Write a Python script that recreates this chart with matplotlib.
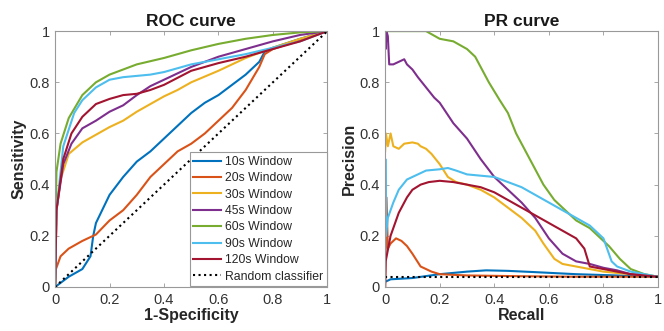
import numpy as np
import matplotlib
matplotlib.use("Agg")
import matplotlib.pyplot as plt

plt.rcParams['font.family'] = ['Liberation Sans', 'DejaVu Sans']

labels = ['10s Window', '20s Window', '30s Window', '45s Window',
          '60s Window', '90s Window', '120s Window']
colors = ['#0072BD', '#D95319', '#EDB120', '#7E2F8E', '#77AC30', '#4DBEEE', '#A2142F']
ticks = [0, 0.2, 0.4, 0.6, 0.8, 1]
tick_labels = ['0', '0.2', '0.4', '0.6', '0.8', '1']

# ROC curves (1-specificity, sensitivity)
roc_10_x = [0, 0.05, 0.1, 0.13, 0.14, 0.15, 0.2, 0.25, 0.3, 0.35, 0.4, 0.45, 0.5, 0.55, 0.6, 0.65, 0.7, 0.75, 0.77, 0.8, 0.9, 1]
roc_10_y = [0, 0.04, 0.07, 0.12, 0.2, 0.25, 0.36, 0.43, 0.49, 0.53, 0.58, 0.63, 0.68, 0.72, 0.75, 0.79, 0.83, 0.88, 0.92, 0.935, 0.97, 1]
roc_20_x = [0, 0.003, 0.02, 0.05, 0.1, 0.15, 0.2, 0.25, 0.3, 0.35, 0.4, 0.45, 0.5, 0.55, 0.6, 0.65, 0.7, 0.75, 0.77, 0.8, 0.9, 1]
roc_20_y = [0, 0.07, 0.12, 0.15, 0.18, 0.205, 0.26, 0.3, 0.36, 0.43, 0.48, 0.53, 0.56, 0.6, 0.65, 0.7, 0.77, 0.86, 0.91, 0.93, 0.965, 1]
roc_30_x = [0, 0.005, 0.02, 0.05, 0.1, 0.15, 0.2, 0.25, 0.3, 0.35, 0.4, 0.45, 0.5, 0.6, 0.65, 0.7, 0.8, 0.9, 1]
roc_30_y = [0, 0.3, 0.42, 0.52, 0.565, 0.595, 0.625, 0.65, 0.685, 0.715, 0.745, 0.77, 0.8, 0.845, 0.87, 0.895, 0.935, 0.97, 1]
roc_45_x = [0, 0.005, 0.03, 0.06, 0.1, 0.15, 0.2, 0.25, 0.3, 0.35, 0.4, 0.5, 0.6, 0.7, 0.8, 0.9, 1]
roc_45_y = [0, 0.3, 0.48, 0.56, 0.62, 0.65, 0.685, 0.71, 0.75, 0.785, 0.81, 0.86, 0.9, 0.93, 0.96, 0.985, 1]
roc_60_x = [0, 0, 0.005, 0.02, 0.05, 0.1, 0.15, 0.2, 0.3, 0.4, 0.5, 0.6, 0.7, 0.8, 0.9, 1]
roc_60_y = [0, 0.2, 0.45, 0.56, 0.66, 0.75, 0.8, 0.83, 0.87, 0.895, 0.925, 0.95, 0.97, 0.985, 0.995, 1]
roc_90_x = [0, 0.005, 0.03, 0.07, 0.1, 0.15, 0.2, 0.25, 0.35, 0.4, 0.5, 0.6, 0.7, 0.8, 0.9, 1]
roc_90_y = [0, 0.3, 0.55, 0.68, 0.73, 0.78, 0.81, 0.82, 0.83, 0.84, 0.87, 0.89, 0.91, 0.935, 0.96, 1]
roc_120_x = [0, 0.005, 0.03, 0.06, 0.1, 0.15, 0.2, 0.25, 0.3, 0.35, 0.4, 0.5, 0.6, 0.7, 0.8, 0.9, 1]
roc_120_y = [0, 0.3, 0.5, 0.6, 0.665, 0.715, 0.735, 0.75, 0.755, 0.77, 0.79, 0.845, 0.875, 0.9, 0.93, 0.96, 1]

# PR curves (recall, precision)
pr_10_x = [0, 0.02, 0.1, 0.2, 0.3, 0.37, 0.45, 0.55, 0.7, 0.85, 1]
pr_10_y = [0.02, 0.03, 0.035, 0.05, 0.06, 0.065, 0.063, 0.058, 0.05, 0.045, 0.04]
pr_20_x = [0, 0.005, 0.01, 0.02, 0.04, 0.06, 0.08, 0.1, 0.13, 0.17, 0.2, 0.3, 0.5, 0.7, 1]
pr_20_y = [0, 0.35, 0.15, 0.17, 0.19, 0.18, 0.16, 0.13, 0.08, 0.06, 0.05, 0.045, 0.042, 0.04, 0.04]
pr_30_x = [0, 0.003, 0.01, 0.02, 0.03, 0.05, 0.07, 0.1, 0.12, 0.13, 0.15, 0.17, 0.2, 0.23, 0.26, 0.3, 0.35, 0.4, 0.45, 0.5, 0.55, 0.58, 0.62, 0.65, 0.7, 0.8, 0.9, 1]
pr_30_y = [0.53, 0.6, 0.55, 0.6, 0.55, 0.54, 0.56, 0.565, 0.56, 0.55, 0.54, 0.52, 0.48, 0.43, 0.41, 0.4, 0.38, 0.35, 0.31, 0.27, 0.22, 0.17, 0.11, 0.09, 0.08, 0.06, 0.05, 0.04]
pr_45_x = [0, 0.002, 0.005, 0.01, 0.015, 0.03, 0.05, 0.07, 0.08, 0.1, 0.12, 0.15, 0.18, 0.2, 0.25, 0.3, 0.35, 0.4, 0.45, 0.5, 0.55, 0.6, 0.65, 0.7, 0.75, 0.8, 0.85, 0.9, 1]
pr_45_y = [0.97, 0.93, 1.0, 0.98, 0.87, 0.87, 0.88, 0.89, 0.87, 0.85, 0.82, 0.78, 0.74, 0.72, 0.64, 0.58, 0.5, 0.43, 0.38, 0.33, 0.27, 0.19, 0.13, 0.1, 0.09, 0.075, 0.065, 0.05, 0.04]
pr_60_x = [0, 0.15, 0.2, 0.25, 0.3, 0.33, 0.36, 0.38, 0.42, 0.45, 0.48, 0.52, 0.55, 0.58, 0.62, 0.66, 0.7, 0.75, 0.78, 0.82, 0.86, 0.9, 0.95, 1]
pr_60_y = [1, 1, 0.97, 0.96, 0.93, 0.9, 0.84, 0.8, 0.73, 0.68, 0.6, 0.52, 0.46, 0.4, 0.34, 0.3, 0.26, 0.23, 0.2, 0.16, 0.11, 0.07, 0.05, 0.04]
pr_90_x = [0, 0.001, 0.003, 0.01, 0.03, 0.05, 0.08, 0.12, 0.15, 0.2, 0.23, 0.26, 0.3, 0.35, 0.4, 0.45, 0.5, 0.55, 0.6, 0.65, 0.7, 0.75, 0.8, 0.83, 0.85, 0.9, 1]
pr_90_y = [0.1, 0.5, 0.2, 0.27, 0.33, 0.38, 0.42, 0.44, 0.455, 0.46, 0.465, 0.455, 0.44, 0.435, 0.43, 0.41, 0.39, 0.36, 0.33, 0.3, 0.27, 0.24, 0.19, 0.1, 0.08, 0.06, 0.04]
pr_120_x = [0, 0.002, 0.02, 0.05, 0.08, 0.1, 0.13, 0.16, 0.2, 0.25, 0.3, 0.35, 0.4, 0.45, 0.5, 0.55, 0.6, 0.65, 0.7, 0.73, 0.75, 0.8, 0.9, 1]
pr_120_y = [0, 0.1, 0.2, 0.29, 0.35, 0.38, 0.4, 0.41, 0.415, 0.41, 0.4, 0.39, 0.37, 0.34, 0.31, 0.28, 0.25, 0.22, 0.19, 0.15, 0.08, 0.07, 0.05, 0.04]
pr_baseline = 0.04

roc_x = [roc_10_x, roc_20_x, roc_30_x, roc_45_x, roc_60_x, roc_90_x, roc_120_x]
roc_y = [roc_10_y, roc_20_y, roc_30_y, roc_45_y, roc_60_y, roc_90_y, roc_120_y]
pr_x = [pr_10_x, pr_20_x, pr_30_x, pr_45_x, pr_60_x, pr_90_x, pr_120_x]
pr_y = [pr_10_y, pr_20_y, pr_30_y, pr_45_y, pr_60_y, pr_90_y, pr_120_y]

fig = plt.figure(figsize=(6.64, 3.31), dpi=100)
ax1 = fig.add_axes([0.083, 0.133, 0.41, 0.773])
ax2 = fig.add_axes([0.58, 0.133, 0.411, 0.773])

for i in range(7):
    ax1.plot(roc_x[i], roc_y[i], color=colors[i], lw=1.5, label=labels[i])
ax1.plot([0, 1], [0, 1], 'k:', lw=1.5, label='Random classifier')

for i in range(7):
    ax2.plot(pr_x[i], pr_y[i], color=colors[i], lw=1.5)
ax2.plot([0, 1], [pr_baseline, pr_baseline], 'k:', lw=1.5)

def style(ax, title, xlabel, ylabel):
    ax.set_xlim(0, 1)
    ax.set_ylim(0, 1)
    ax.set_xticks(ticks)
    ax.set_yticks(ticks)
    ax.set_xticklabels(tick_labels)
    ax.set_yticklabels(tick_labels)
    ax.tick_params(direction='in', top=True, right=True, length=3, width=0.6,
                   labelsize=10.5, pad=4, colors='#999999', labelcolor='#333333')
    for s in ax.spines.values():
        s.set_color('#999999')
        s.set_linewidth(0.8)
    ax.set_title(title, fontsize=12.5, fontweight='bold', pad=4, color='#1a1a1a')
    ax.set_xlabel(xlabel, fontsize=11.5, fontweight='bold', labelpad=1, color='#262626')
    ax.set_ylabel(ylabel, fontsize=11.5, fontweight='bold', labelpad=2, color='#262626')

style(ax1, 'ROC curve', '1-Specificity', 'Sensitivity')
style(ax2, 'PR curve', 'Recall', 'Precision')

leg = ax1.legend(loc='lower right', fontsize=8.8, handlelength=2.3, handletextpad=0.3,
                 labelspacing=0.36, borderpad=0.3, borderaxespad=0.05, fancybox=False,
                 framealpha=1, edgecolor='#999999')
leg.get_frame().set_linewidth(0.8)
for t in leg.get_texts():
    t.set_color('#262626')

fig.savefig('out.png', dpi=100)
